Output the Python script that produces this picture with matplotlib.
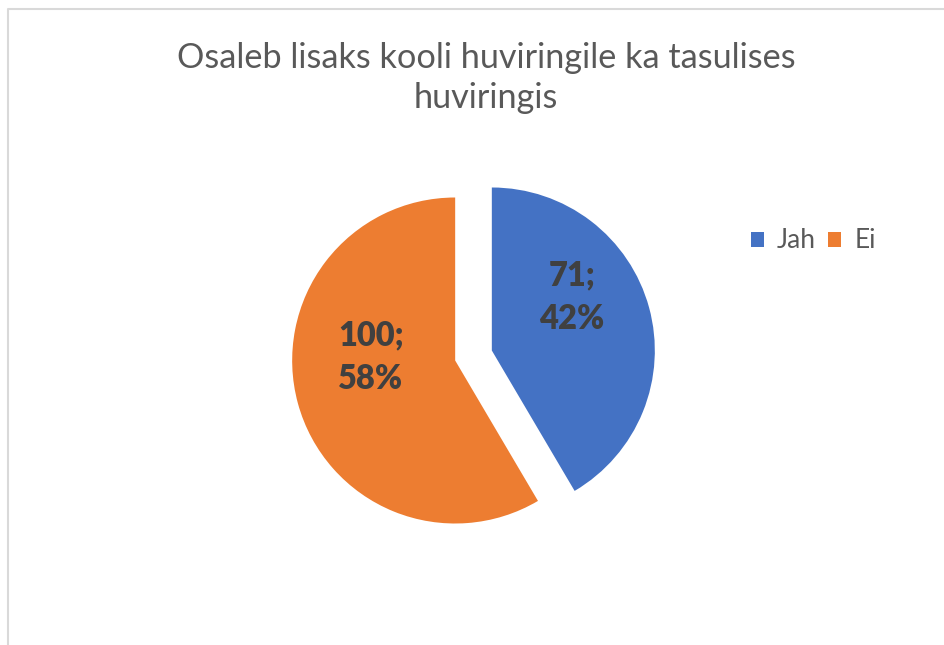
import matplotlib
matplotlib.use("Agg")
import matplotlib.pyplot as plt
from matplotlib.lines import Line2D

# -------------------------
# Data
# -------------------------
categories = ["Jah", "Ei"]
counts = [71, 100]
colors = ["#4472C4", "#ED7D31"]
title_text = "Osaleb lisaks kooli huviringile ka tasulises\nhuviringis"

W, H = 945, 645
plt.rcParams["font.family"] = ["Lato", "DejaVu Sans"]

fig = plt.figure(figsize=(W / 100, H / 100), dpi=100)
ax = fig.add_axes([0, 0, 1, 1])

# chart area border (left and top only visible)
ax.add_line(Line2D([7.5, 7.5, W], [H, 8.5, 8.5], color="#D9D9D9", lw=1.5))

# pie: y axis inverted below, so counterclock=True draws clockwise on screen
radius = 163
center = (473.5, 355.5)
wedges, _ = ax.pie(counts, colors=colors, startangle=-90, counterclock=True,
                   radius=radius, center=center, explode=[19, 19],
                   wedgeprops=dict(linewidth=0), frame=True)
ax.set_xlim(0, W)
ax.set_ylim(H, 0)   # pixel-like coordinates, y down
ax.set_aspect("equal")
ax.axis("off")

total = sum(counts)
label_pos = [(572, 297), (371, 357)]
for (x, y), v in zip(label_pos, counts):
    ax.text(x, y, f"{v};\n{v / total * 100:.0f}%", ha="center", va="center",
            fontsize=23.5, fontweight="heavy", color="#404040", linespacing=1.45)

fig.text(486 / W, 1 - 78 / H, title_text, ha="center", va="center",
         fontsize=24.7, color="#595959", linespacing=1.32)

leg = fig.legend(wedges, categories, loc="center left",
                 bbox_to_anchor=(740 / W, 1 - 241 / H), ncol=2, frameon=False,
                 fontsize=19, handlelength=0.5, handleheight=0.5,
                 handletextpad=0.5, columnspacing=0.45, borderaxespad=0)
for t in leg.get_texts():
    t.set_color("#595959")

fig.savefig("out.png", dpi=100, facecolor="white")
